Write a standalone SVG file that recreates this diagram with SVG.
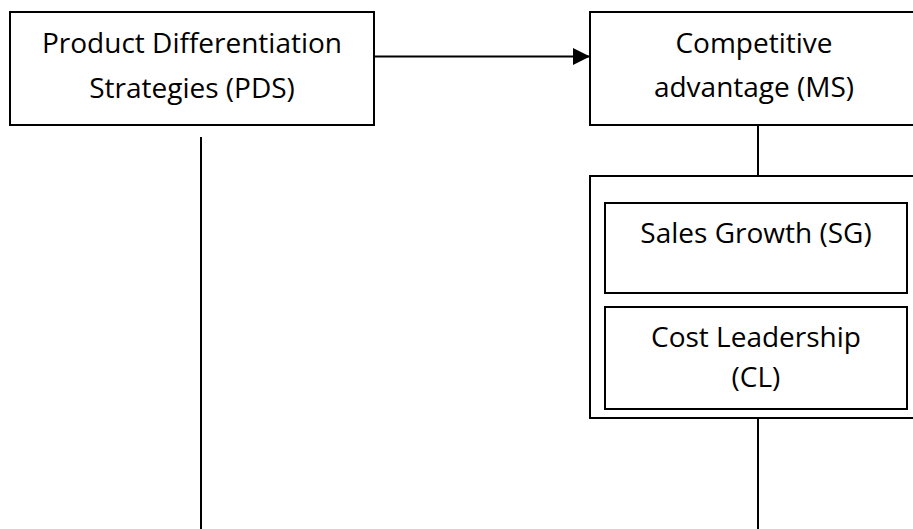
<svg xmlns="http://www.w3.org/2000/svg" width="913" height="529" viewBox="0 0 913 529">
  <defs>
    <style>
      .box { fill: #ffffff; stroke: #000000; stroke-width: 2; }
      .wire { fill: none; stroke: #000000; stroke-width: 2; }
      .label { font-family: "Open Sans", "Liberation Sans", sans-serif; font-size: 28px; fill: #000000; text-anchor: middle; }
    </style>
    <marker id="arrowhead" markerUnits="userSpaceOnUse" markerWidth="18" markerHeight="17" refX="17" refY="8.5" orient="auto">
      <path d="M0,0 L17,8.5 L0,17 Z" fill="#000000"/>
    </marker>
  </defs>
  <rect width="913" height="529" fill="#ffffff"/>

  <!-- connectors -->
  <g id="connectors">
    <line class="wire" x1="374" y1="56.5" x2="590" y2="56.5" stroke-width="2.5" marker-end="url(#arrowhead)"/>
    <line class="wire" x1="758" y1="125" x2="758" y2="176"/>
    <line class="wire" x1="758" y1="418" x2="758" y2="529"/>
    <line class="wire" x1="201" y1="137" x2="201" y2="529"/>
  </g>

  <!-- Product Differentiation Strategies -->
  <g id="pds">
    <rect class="box" x="10" y="12" width="364" height="113"/>
    <text class="label" x="192" y="53">Product Differentiation</text>
    <text class="label" x="192" y="98">Strategies (PDS)</text>
  </g>

  <!-- Competitive advantage -->
  <g id="ms">
    <rect class="box" x="590" y="12" width="340" height="113"/>
    <text class="label" x="754" y="53">Competitive</text>
    <text class="label" x="754" y="97">advantage (MS)</text>
  </g>

  <!-- grouping frame for the advantage indicators -->
  <g id="indicators">
    <rect class="box" x="590" y="176" width="340" height="242"/>
  </g>

  <!-- Sales Growth -->
  <g id="sg">
    <rect class="box" x="605" y="203" width="302" height="90"/>
    <text class="label" x="756" y="243">Sales Growth (SG)</text>
  </g>

  <!-- Cost Leadership -->
  <g id="cl">
    <rect class="box" x="605" y="307" width="302" height="102"/>
    <text class="label" x="756" y="347">Cost Leadership</text>
    <text class="label" x="756" y="387">(CL)</text>
  </g>
</svg>
